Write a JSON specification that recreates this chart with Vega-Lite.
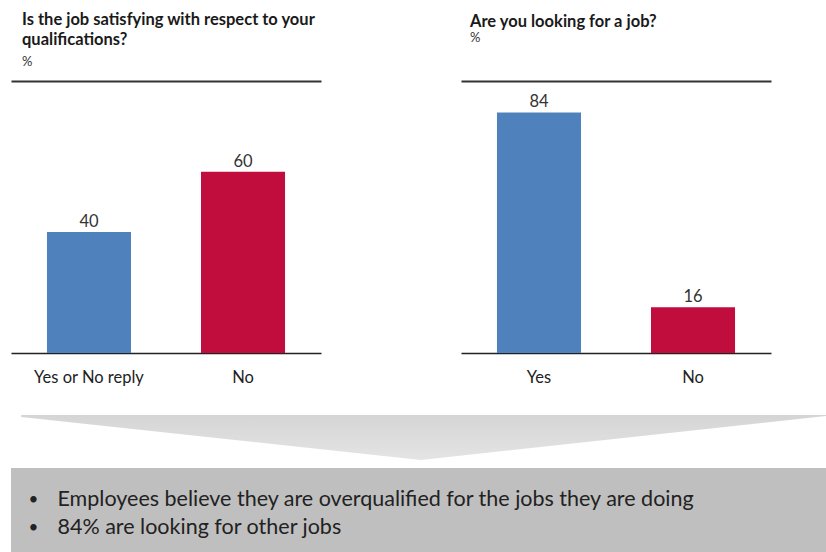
{
  "$schema": "https://vega.github.io/schema/vega-lite/v6.json",
  "background": "white",
  "padding": {"left": 11, "top": 11, "right": 0, "bottom": 0},
  "config": {"font": "Lato", "view": {"stroke": null}},
  "datasets": {
    "q1": [
      {"answer": "Yes or No reply", "pct": 40},
      {"answer": "No", "pct": 60}
    ],
    "q2": [
      {"answer": "Yes", "pct": 84},
      {"answer": "No", "pct": 16}
    ],
    "notes": [
      {"line": 1, "text": "Employees believe they are overqualified for the jobs they are doing"},
      {"line": 2, "text": "84% are looking for other jobs"}
    ],
    "arrow": [{"part": "summary arrow"}]
  },
  "spacing": 28,
  "vconcat": [
    {
      "spacing": 140,
      "hconcat": [
        {
          "title": {"text": ["Is the job satisfying with respect to your", "qualifications?"], "subtitle": "%", "anchor": "start", "dx": 11, "offset": 12, "fontSize": 16.5, "fontWeight": "bold", "color": "#1a1a1a", "lineHeight": 20, "subtitleFontSize": 13, "subtitleColor": "#333333", "subtitlePadding": 8, "subtitleFont": "Lato"},
          "width": 310,
          "height": 272,
          "data": {"name": "q1"},
          "encoding": {
            "x": {"field": "answer", "type": "nominal", "sort": null, "scale": {"paddingInner": 0.4545, "paddingOuter": 0.2335}, "axis": {"title": null, "orient": "bottom", "labelAngle": 0, "ticks": false, "domainColor": "#222222", "domainWidth": 1.5, "labelFontSize": 16.5, "labelColor": "#222222", "labelPadding": 16}},
            "y": {"field": "pct", "type": "quantitative", "scale": {"domain": [0, 90]}, "axis": null}
          },
          "layer": [
            {"mark": {"type": "bar"}, "encoding": {"color": {"field": "answer", "type": "nominal", "scale": {"domain": ["Yes or No reply", "Yes", "No"], "range": ["#4f81bd", "#4f81bd", "#c00d3d"]}, "legend": null}}},
            {"mark": {"type": "text", "baseline": "alphabetic", "dy": -5, "fontSize": 16.5, "color": "#333333"}, "encoding": {
              "x": {"field": "answer", "type": "nominal", "sort": null, "axis": {"orient": "top", "title": null, "labels": false, "ticks": false, "domainColor": "#333333", "domainWidth": 2}},
              "text": {"field": "pct"}}}
          ],
          "resolve": {"axis": {"x": "independent"}}
        },
        {
          "title": {"text": "Are you looking for a job?", "subtitle": "%", "anchor": "start", "dx": 9, "offset": 36, "fontSize": 16.5, "fontWeight": "bold", "color": "#1a1a1a", "lineHeight": 20, "subtitleFontSize": 13, "subtitleColor": "#333333", "subtitlePadding": 2, "subtitleFont": "Lato"},
          "width": 310,
          "height": 272,
          "data": {"name": "q2"},
          "encoding": {
            "x": {"field": "answer", "type": "nominal", "sort": null, "scale": {"paddingInner": 0.4545, "paddingOuter": 0.2335}, "axis": {"title": null, "orient": "bottom", "labelAngle": 0, "ticks": false, "domainColor": "#222222", "domainWidth": 1.5, "labelFontSize": 16.5, "labelColor": "#222222", "labelPadding": 16}},
            "y": {"field": "pct", "type": "quantitative", "scale": {"domain": [0, 95]}, "axis": null}
          },
          "layer": [
            {"mark": {"type": "bar"}, "encoding": {"color": {"field": "answer", "type": "nominal", "scale": {"domain": ["Yes or No reply", "Yes", "No"], "range": ["#4f81bd", "#4f81bd", "#c00d3d"]}, "legend": null}}},
            {"mark": {"type": "text", "baseline": "alphabetic", "dy": -5, "fontSize": 16.5, "color": "#333333"}, "encoding": {
              "x": {"field": "answer", "type": "nominal", "sort": null, "axis": {"orient": "top", "title": null, "labels": false, "ticks": false, "domainColor": "#333333", "domainWidth": 2}},
              "text": {"field": "pct"}}}
          ],
          "resolve": {"axis": {"x": "independent"}}
        }
      ]
    },
    {
      "spacing": 7,
      "vconcat": [
        {
          "width": 815,
          "height": 46,
          "data": {"name": "arrow"},
          "mark": {"type": "point", "filled": true, "opacity": 1, "strokeWidth": 0, "size": 649636,
            "fill": {"gradient": "linear", "x1": 0, "y1": 0, "x2": 0, "y2": 1, "stops": [{"offset": 0, "color": "#d5d5d5"}, {"offset": 1, "color": "#e4e4e4"}]},
            "shape": "M-0.986,-0.0571 L1.014,-0.0571 L1.014,-0.0546 L0.006,0.0546 L-0.986,-0.0521 Z"},
          "encoding": {}
        },
        {
          "width": 815,
          "height": 84,
          "view": {"fill": "#bfbfbf", "stroke": null},
          "data": {"name": "notes"},
          "encoding": {"y": {"field": "line", "type": "ordinal", "sort": null, "scale": {"type": "point", "padding": 1, "align": 0.571}, "axis": null}},
          "layer": [
            {"mark": {"type": "text", "align": "center", "baseline": "middle", "dx": -385, "fontSize": 17, "color": "#222222"}, "encoding": {"text": {"value": "•"}}},
            {"mark": {"type": "text", "align": "left", "baseline": "middle", "dx": -361, "fontSize": 21.5, "color": "#222222"}, "encoding": {"text": {"field": "text"}}}
          ]
        }
      ]
    }
  ]
}
